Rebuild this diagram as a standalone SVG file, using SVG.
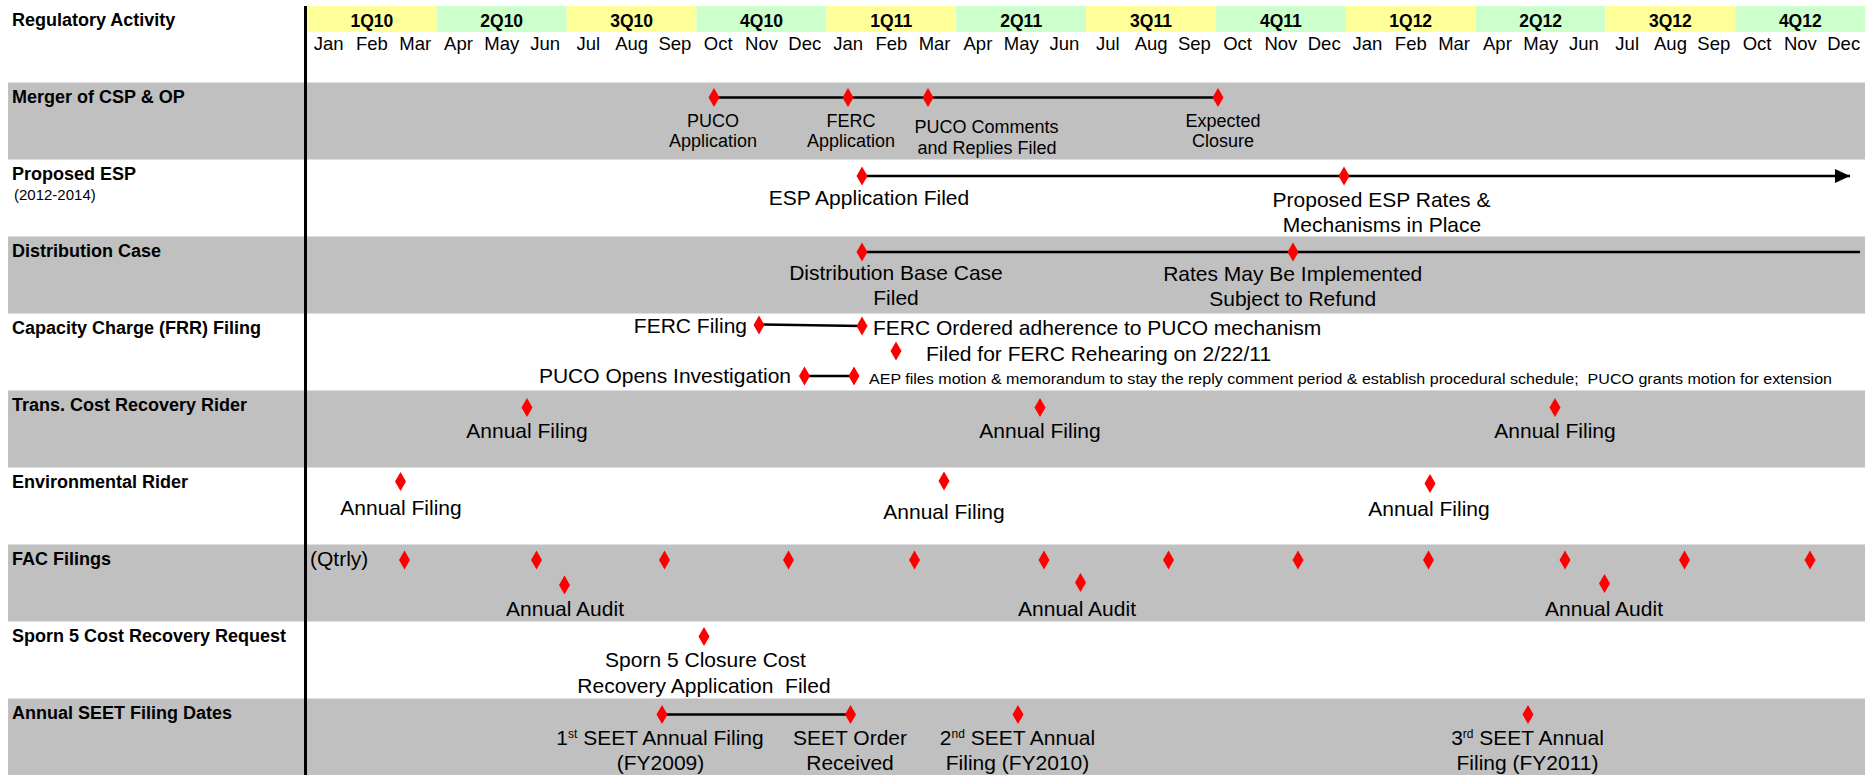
<svg xmlns="http://www.w3.org/2000/svg" width="1875" height="775" viewBox="0 0 1875 775">
<style>
text{font-family:'Liberation Sans',Arial,sans-serif;fill:#000}
.lb{font-size:18px;font-weight:bold}
.q{font-size:17.5px;font-weight:bold;text-anchor:middle}
.m{font-size:18.5px;text-anchor:middle}
.e18{font-size:18px;text-anchor:middle}
.e21{font-size:21px;text-anchor:middle}
.e21s{font-size:21px}
.e21e{font-size:21px;text-anchor:end}
.sm{font-size:15px}
.sup{font-size:12px}
.gray{fill:#C0C0C0}
.qy{fill:#FFFF99}
.qg{fill:#CCFFCC}
.ln{stroke:#000;stroke-width:2.5;fill:none}
</style>
<defs>
<path id="dia" d="M0,-9.5 L5.5,0 L0,9.5 L-5.5,0 Z" fill="#FF0000"/>
<marker id="arr" markerUnits="userSpaceOnUse" markerWidth="15" markerHeight="14" viewBox="0 0 15 14" refX="15" refY="7" orient="auto"><path d="M0,0 L15,7 L0,14 Z" fill="#000"/></marker>
</defs>
<rect x="0" y="0" width="1875" height="775" fill="#FFFFFF"/>
<g id="rows">
<rect class="gray" x="8" y="82.5" width="1857" height="77"/>
<rect class="gray" x="8" y="236.5" width="1857" height="77"/>
<rect class="gray" x="8" y="390.5" width="1857" height="77"/>
<rect class="gray" x="8" y="544.5" width="1857" height="77"/>
<rect class="gray" x="8" y="698.5" width="1857" height="77"/>
</g>
<g id="header">
<rect class="qy" x="307" y="6" width="129.8" height="26"/>
<rect class="qg" x="436.8" y="6" width="129.9" height="26"/>
<rect class="qy" x="566.7" y="6" width="129.8" height="26"/>
<rect class="qg" x="696.5" y="6" width="129.8" height="26"/>
<rect class="qy" x="826.3" y="6" width="129.9" height="26"/>
<rect class="qg" x="956.2" y="6" width="129.8" height="26"/>
<rect class="qy" x="1086" y="6" width="129.8" height="26"/>
<rect class="qg" x="1215.8" y="6" width="129.9" height="26"/>
<rect class="qy" x="1345.7" y="6" width="129.8" height="26"/>
<rect class="qg" x="1475.5" y="6" width="129.8" height="26"/>
<rect class="qy" x="1605.3" y="6" width="129.9" height="26"/>
<rect class="qg" x="1735.2" y="6" width="129.8" height="26"/>
<text class="lb" x="12" y="26">Regulatory Activity</text>
<text class="q" x="371.9" y="26.5">1Q10</text>
<text class="q" x="501.7" y="26.5">2Q10</text>
<text class="q" x="631.6" y="26.5">3Q10</text>
<text class="q" x="761.5" y="26.5">4Q10</text>
<text class="q" x="891.3" y="26.5">1Q11</text>
<text class="q" x="1021.2" y="26.5">2Q11</text>
<text class="q" x="1151" y="26.5">3Q11</text>
<text class="q" x="1280.9" y="26.5">4Q11</text>
<text class="q" x="1410.7" y="26.5">1Q12</text>
<text class="q" x="1540.6" y="26.5">2Q12</text>
<text class="q" x="1670.4" y="26.5">3Q12</text>
<text class="q" x="1800.3" y="26.5">4Q12</text>
<text class="m" x="328.6" y="50">Jan</text>
<text class="m" x="371.9" y="50">Feb</text>
<text class="m" x="415.2" y="50">Mar</text>
<text class="m" x="458.5" y="50">Apr</text>
<text class="m" x="501.8" y="50">May</text>
<text class="m" x="545.1" y="50">Jun</text>
<text class="m" x="588.3" y="50">Jul</text>
<text class="m" x="631.6" y="50">Aug</text>
<text class="m" x="674.9" y="50">Sep</text>
<text class="m" x="718.2" y="50">Oct</text>
<text class="m" x="761.5" y="50">Nov</text>
<text class="m" x="804.8" y="50">Dec</text>
<text class="m" x="848.1" y="50">Jan</text>
<text class="m" x="891.4" y="50">Feb</text>
<text class="m" x="934.6" y="50">Mar</text>
<text class="m" x="977.9" y="50">Apr</text>
<text class="m" x="1021.2" y="50">May</text>
<text class="m" x="1064.5" y="50">Jun</text>
<text class="m" x="1107.8" y="50">Jul</text>
<text class="m" x="1151.1" y="50">Aug</text>
<text class="m" x="1194.4" y="50">Sep</text>
<text class="m" x="1237.6" y="50">Oct</text>
<text class="m" x="1280.9" y="50">Nov</text>
<text class="m" x="1324.2" y="50">Dec</text>
<text class="m" x="1367.5" y="50">Jan</text>
<text class="m" x="1410.8" y="50">Feb</text>
<text class="m" x="1454.1" y="50">Mar</text>
<text class="m" x="1497.4" y="50">Apr</text>
<text class="m" x="1540.7" y="50">May</text>
<text class="m" x="1583.9" y="50">Jun</text>
<text class="m" x="1627.2" y="50">Jul</text>
<text class="m" x="1670.5" y="50">Aug</text>
<text class="m" x="1713.8" y="50">Sep</text>
<text class="m" x="1757.1" y="50">Oct</text>
<text class="m" x="1800.4" y="50">Nov</text>
<text class="m" x="1843.7" y="50">Dec</text>
</g>
<line x1="305.5" y1="6" x2="305.5" y2="775" stroke="#000" stroke-width="3"/>
<g id="connectors">
<line class="ln" x1="714" y1="97.5" x2="1218" y2="97.5"/>
<line class="ln" x1="862" y1="176" x2="1850" y2="176" marker-end="url(#arr)"/>
<line class="ln" x1="862" y1="252" x2="1860" y2="252"/>
<line class="ln" x1="759" y1="324.5" x2="862" y2="326"/>
<line class="ln" x1="804.5" y1="376" x2="854" y2="376"/>
<line class="ln" x1="662" y1="714.5" x2="850.5" y2="714.5"/>
</g>
<g id="row-merger">
<text class="lb" x="12" y="102.5">Merger of CSP &amp; OP</text>
<use href="#dia" x="714" y="97.5"/>
<use href="#dia" x="848" y="97.5"/>
<use href="#dia" x="928" y="97.5"/>
<use href="#dia" x="1218" y="97.5"/>
<text class="e18" x="713" y="127">PUCO</text>
<text class="e18" x="713" y="147">Application</text>
<text class="e18" x="851" y="127">FERC</text>
<text class="e18" x="851" y="147">Application</text>
<text class="e18" x="986.5" y="133">PUCO Comments</text>
<text class="e18" x="987" y="154">and Replies Filed</text>
<text class="e18" x="1223" y="127">Expected</text>
<text class="e18" x="1223" y="147">Closure</text>
</g>
<g id="row-esp">
<text class="lb" x="12" y="179.5">Proposed ESP</text>
<text class="sm" x="14" y="200">(2012-2014)</text>
<use href="#dia" x="862" y="176"/>
<use href="#dia" x="1344" y="176"/>
<text class="e21" x="869" y="205">ESP Application Filed</text>
<text class="e21" x="1381.5" y="207">Proposed ESP Rates &amp;</text>
<text class="e21" x="1382" y="232">Mechanisms in Place</text>
</g>
<g id="row-distribution">
<text class="lb" x="12" y="256.5">Distribution Case</text>
<use href="#dia" x="862" y="252"/>
<use href="#dia" x="1293" y="252"/>
<text class="e21" x="896" y="280">Distribution Base Case</text>
<text class="e21" x="896" y="305">Filed</text>
<text class="e21" x="1292.7" y="281">Rates May Be Implemented</text>
<text class="e21" x="1292.7" y="306">Subject to Refund</text>
</g>
<g id="row-capacity">
<text class="lb" x="12" y="333.5">Capacity Charge (FRR) Filing</text>
<use href="#dia" x="759" y="325"/>
<use href="#dia" x="862" y="326"/>
<use href="#dia" x="896" y="351"/>
<use href="#dia" x="804.5" y="376"/>
<use href="#dia" x="854" y="376"/>
<text class="e21e" x="747" y="333">FERC Filing</text>
<text class="e21s" x="873" y="335">FERC Ordered adherence to PUCO mechanism</text>
<text class="e21s" x="926" y="360.5">Filed for FERC Rehearing on 2/22/11</text>
<text class="e21e" x="791" y="382.5">PUCO Opens Investigation</text>
<text class="sm" x="869" y="384" textLength="963" lengthAdjust="spacingAndGlyphs" xml:space="preserve">AEP files motion &amp; memorandum to stay the reply comment period &amp; establish procedural schedule;  PUCO grants motion for extension</text>
</g>
<g id="row-trans">
<text class="lb" x="12" y="410.5">Trans. Cost Recovery Rider</text>
<use href="#dia" x="527" y="407.5"/>
<use href="#dia" x="1040" y="407.5"/>
<use href="#dia" x="1555" y="407.5"/>
<text class="e21" x="527" y="438">Annual Filing</text>
<text class="e21" x="1040" y="438">Annual Filing</text>
<text class="e21" x="1555" y="438">Annual Filing</text>
</g>
<g id="row-env">
<text class="lb" x="12" y="487.5">Environmental Rider</text>
<use href="#dia" x="400.5" y="481.5"/>
<use href="#dia" x="944" y="481"/>
<use href="#dia" x="1430" y="483.5"/>
<text class="e21" x="401" y="515">Annual Filing</text>
<text class="e21" x="944" y="519">Annual Filing</text>
<text class="e21" x="1429" y="515.5">Annual Filing</text>
</g>
<g id="row-fac">
<text class="lb" x="12" y="564.5">FAC Filings</text>
<text class="e21s" x="310" y="566">(Qtrly)</text>
<use href="#dia" x="404.5" y="560"/>
<use href="#dia" x="536.5" y="560"/>
<use href="#dia" x="664.5" y="560"/>
<use href="#dia" x="788.5" y="560"/>
<use href="#dia" x="914.5" y="560"/>
<use href="#dia" x="1044" y="560"/>
<use href="#dia" x="1168.5" y="560"/>
<use href="#dia" x="1298" y="560"/>
<use href="#dia" x="1428.5" y="560"/>
<use href="#dia" x="1565" y="560"/>
<use href="#dia" x="1684.5" y="560"/>
<use href="#dia" x="1810" y="560"/>
<use href="#dia" x="564.5" y="585"/>
<use href="#dia" x="1080.5" y="582.5"/>
<use href="#dia" x="1604.5" y="583.5"/>
<text class="e21" x="565" y="616">Annual Audit</text>
<text class="e21" x="1077" y="616">Annual Audit</text>
<text class="e21" x="1604" y="616">Annual Audit</text>
</g>
<g id="row-sporn">
<text class="lb" x="12" y="641.5">Sporn 5 Cost Recovery Request</text>
<use href="#dia" x="704" y="636.5"/>
<text class="e21" x="705.5" y="666.5">Sporn 5 Closure Cost</text>
<text class="e21" x="704" y="692.5" xml:space="preserve">Recovery Application  Filed</text>
</g>
<g id="row-seet">
<text class="lb" x="12" y="718.5">Annual SEET Filing Dates</text>
<use href="#dia" x="662" y="714.5"/>
<use href="#dia" x="850.5" y="714.5"/>
<use href="#dia" x="1018" y="714.5"/>
<use href="#dia" x="1528" y="714.5"/>
<text class="e21" x="660" y="745">1<tspan class="sup" dy="-7">st</tspan><tspan dy="7"> SEET Annual Filing</tspan></text>
<text class="e21" x="660.5" y="769.5">(FY2009)</text>
<text class="e21" x="850" y="745">SEET Order</text>
<text class="e21" x="850" y="769.5">Received</text>
<text class="e21" x="1017.5" y="745">2<tspan class="sup" dy="-7">nd</tspan><tspan dy="7"> SEET Annual</tspan></text>
<text class="e21" x="1017.5" y="769.5">Filing (FY2010)</text>
<text class="e21" x="1527.5" y="745">3<tspan class="sup" dy="-7">rd</tspan><tspan dy="7"> SEET Annual</tspan></text>
<text class="e21" x="1527.5" y="769.5">Filing (FY2011)</text>
</g>
</svg>
